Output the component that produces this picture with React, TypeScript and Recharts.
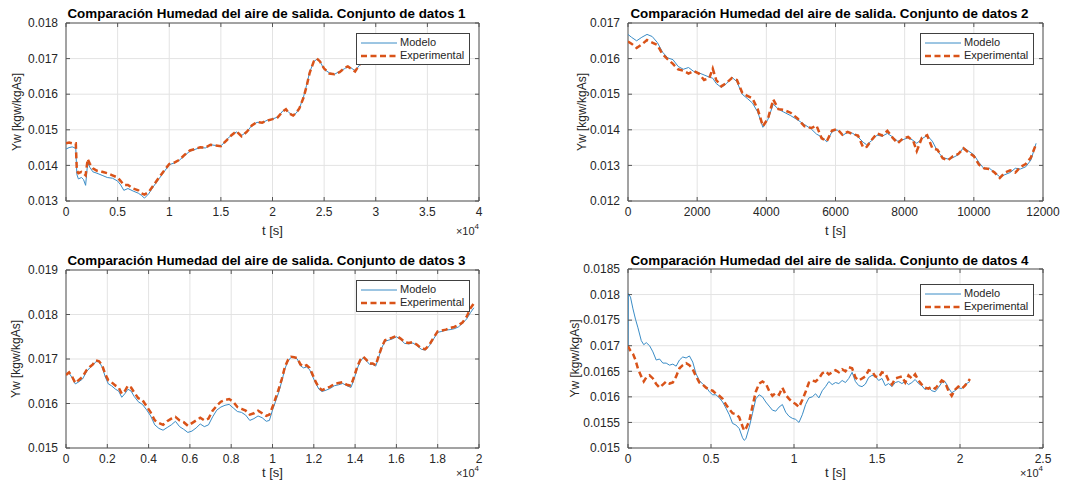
import React from "react";
import {
  LineChart,
  Line,
  XAxis,
  YAxis,
  CartesianGrid,
  Legend,
  Label,
  ReferenceArea,
} from "recharts";

// ---- data set 1 ----
const t1 = [
  0, 300, 600, 950, 1050, 1200, 1500, 1700, 1900, 2100,
  2300, 2600, 3000, 3500, 4000, 4500, 5000, 5300, 5600, 6000,
  6500, 7000, 7300, 7600, 8000, 8500, 9000, 9500, 10000, 10500,
  11000, 11500, 12000, 12500, 13000, 13500, 14000, 14500, 15000, 15300,
  15600, 16000, 16500, 17000, 17500, 18000, 18500, 19000, 19500, 20000,
  20500, 21000, 21300, 21600, 22000, 22300, 22600, 23000, 23300, 23600,
  24000, 24300, 24600, 25000, 25500, 26000, 26500, 27000, 27300, 27600,
  28000, 28500, 29000, 29300,
];
const modelo1 = [
  0.01446, 0.0145, 0.01452, 0.01448, 0.01375, 0.01362, 0.01366, 0.0136, 0.01344, 0.01408,
  0.01395, 0.01382, 0.01378, 0.01372, 0.01366, 0.01364, 0.01356, 0.01345, 0.0133, 0.01335,
  0.01328, 0.01322, 0.01316, 0.01308, 0.0132, 0.01342, 0.01362, 0.01382, 0.01402, 0.01407,
  0.01415, 0.01428, 0.0144, 0.01445, 0.0145, 0.01449, 0.01458, 0.01456, 0.01455, 0.01463,
  0.01474, 0.01484, 0.01494, 0.01484, 0.01494, 0.01512, 0.01521, 0.0152, 0.01527, 0.0153,
  0.01536, 0.01553, 0.01557, 0.01548, 0.0154, 0.01547, 0.0156, 0.01592, 0.01625, 0.01662,
  0.01692, 0.01698, 0.01692, 0.0167, 0.0166, 0.01656, 0.01664, 0.01672, 0.01678, 0.01674,
  0.01666, 0.01684, 0.01692, 0.01698,
];
const experimental1 = [
  0.01462, 0.01464, 0.01462, 0.01462, 0.01385, 0.01378, 0.01382, 0.01378, 0.01372, 0.01418,
  0.01405, 0.01392, 0.01385, 0.01382, 0.01378, 0.01372, 0.01366, 0.01356, 0.01345, 0.01345,
  0.01335, 0.0133, 0.01322, 0.01318, 0.01325, 0.01345, 0.01366, 0.01385, 0.01404, 0.01408,
  0.01416, 0.0143, 0.01442, 0.01446, 0.01451, 0.0145, 0.01458, 0.01456, 0.01454, 0.01463,
  0.01472, 0.01484, 0.01496, 0.01482, 0.01494, 0.01512, 0.01522, 0.0152, 0.01526, 0.0153,
  0.01535, 0.01552, 0.01558, 0.01546, 0.0154, 0.01548, 0.0156, 0.0159, 0.01622, 0.0166,
  0.01692, 0.017, 0.01692, 0.01672, 0.01658, 0.01656, 0.01662, 0.01674, 0.01678, 0.01672,
  0.01664, 0.01686, 0.01692, 0.017,
];

// ---- data set 2 ----
const t2 = [
  0, 100, 250, 400, 550, 700, 850, 1000, 1150, 1300,
  1450, 1600, 1750, 1900, 2050, 2200, 2350, 2450, 2550, 2700,
  2850, 3000, 3150, 3300, 3450, 3600, 3750, 3900, 4050, 4200,
  4350, 4500, 4700, 4900, 5100, 5300, 5450, 5600, 5750, 5900,
  6050, 6200, 6350, 6500, 6650, 6800, 6900, 7050, 7200, 7350,
  7500, 7650, 7800, 7950, 8100, 8250, 8350, 8500, 8650, 8800,
  8950, 9100, 9250, 9400, 9550, 9700, 9850, 10000, 10150, 10300,
  10450, 10600, 10750, 10900, 11050, 11200, 11350, 11500, 11650, 11800,
];
const modelo2 = [
  0.01668, 0.0166, 0.0165, 0.0166, 0.01668, 0.01662, 0.01645, 0.01618, 0.01602, 0.01597,
  0.01578, 0.0157, 0.01575, 0.01564, 0.0156, 0.01554, 0.01548, 0.01545, 0.0153, 0.01519,
  0.0153, 0.01548, 0.01535, 0.015, 0.01488, 0.01475, 0.0145, 0.01407, 0.0143, 0.01472,
  0.01458, 0.0145, 0.0144, 0.01428, 0.01415, 0.01402, 0.01388, 0.0138, 0.01366, 0.01395,
  0.014, 0.01384, 0.01393, 0.0139, 0.0138, 0.01365, 0.01358, 0.0137, 0.01385, 0.01382,
  0.0139, 0.0138, 0.01368, 0.01372, 0.01378, 0.0137, 0.01362, 0.01375, 0.01384, 0.01368,
  0.0134, 0.01322, 0.01318, 0.01322, 0.0133, 0.0135, 0.0134, 0.0133, 0.01308, 0.0129,
  0.01292, 0.0128, 0.01268, 0.01274, 0.0128, 0.01292, 0.0129, 0.01296, 0.01315, 0.01362,
];
const experimental2 = [
  0.01648, 0.01642, 0.0163, 0.0164, 0.01652, 0.01645, 0.01638, 0.01612, 0.01598, 0.01585,
  0.0157, 0.01566, 0.01558, 0.01565, 0.01558, 0.0154, 0.01545, 0.01572, 0.0154, 0.01522,
  0.01532, 0.01545, 0.0154, 0.01505, 0.01495, 0.01488, 0.01458, 0.0141, 0.01432, 0.01485,
  0.01458, 0.01456, 0.01448, 0.01432, 0.0141, 0.01405, 0.01412, 0.01376, 0.01368, 0.01398,
  0.01402, 0.01386, 0.01394, 0.01388, 0.01384, 0.0135, 0.01352, 0.01372, 0.0139, 0.01384,
  0.01397, 0.01378, 0.01362, 0.01376, 0.0138, 0.01368, 0.0134, 0.01378, 0.01385, 0.01348,
  0.01344, 0.0132, 0.01314, 0.01326, 0.01332, 0.01348, 0.01336, 0.01326, 0.01302, 0.01292,
  0.0129, 0.0128, 0.01265, 0.0128, 0.01286, 0.0128, 0.01296, 0.01304, 0.01322, 0.0136,
];

// ---- data set 3 ----
const t3 = [
  0, 150, 300, 450, 600, 800, 1000, 1150, 1300, 1450,
  1600, 1750, 1900, 2050, 2200, 2400, 2550, 2700, 2850, 3000,
  3150, 3300, 3500, 3700, 3900, 4100, 4300, 4500, 4700, 4900,
  5100, 5300, 5500, 5700, 5900, 6100, 6300, 6500, 6700, 6900,
  7100, 7300, 7500, 7700, 7900, 8100, 8300, 8500, 8700, 8900,
  9100, 9300, 9500, 9700, 9850, 10000, 10150, 10300, 10450, 10600,
  10750, 10900, 11050, 11200, 11350, 11500, 11650, 11800, 11950, 12100,
  12250, 12400, 12600, 12800, 13000, 13200, 13400, 13600, 13800, 13950,
  14100, 14250, 14400, 14550, 14700, 14850, 15000, 15150, 15300, 15450,
  15600, 15800, 16000, 16200, 16400, 16600, 16800, 17000, 17200, 17400,
  17600, 17800, 18000, 18200, 18400, 18600, 18800, 19000, 19200, 19400,
  19600, 19750,
];
const modelo3 = [
  0.01666, 0.01668, 0.01658, 0.01644, 0.01648, 0.01655, 0.01672, 0.0168, 0.01686, 0.01694,
  0.01694, 0.01682, 0.0166, 0.01644, 0.0164, 0.01632, 0.01628, 0.01614, 0.01622, 0.01632,
  0.01628, 0.01616, 0.01604, 0.01598, 0.01586, 0.01572, 0.01552, 0.01544, 0.0154, 0.01546,
  0.01552, 0.0156, 0.01548, 0.01542, 0.01535, 0.01538, 0.01545, 0.01554, 0.01548, 0.01552,
  0.0157, 0.01585, 0.01592, 0.01596, 0.01598, 0.0159, 0.01582, 0.0158, 0.01574, 0.01562,
  0.01566, 0.01572, 0.01568, 0.0156, 0.01562, 0.01585, 0.01605, 0.01625, 0.0165, 0.01678,
  0.01695, 0.01704, 0.01704, 0.017, 0.01685, 0.0168, 0.01682, 0.01676, 0.0166, 0.01645,
  0.01632, 0.01627, 0.0163, 0.01634, 0.0164, 0.01642, 0.01645, 0.0164, 0.01636, 0.01655,
  0.01678, 0.01695, 0.01703, 0.01696, 0.01688, 0.01688, 0.01684, 0.01705, 0.01726, 0.0174,
  0.01742, 0.01745, 0.0175, 0.01744, 0.01735, 0.01734, 0.01736, 0.0173, 0.01722, 0.0172,
  0.0173, 0.01745, 0.0176, 0.01762, 0.01765, 0.01766, 0.01768, 0.01772, 0.0178, 0.0179,
  0.01805, 0.01815,
];
const experimental3 = [
  0.01664, 0.0167, 0.0166, 0.01646, 0.01652, 0.0166, 0.01675, 0.01682, 0.01688, 0.01697,
  0.01695, 0.01686, 0.01666, 0.01652, 0.01648, 0.0164, 0.01636, 0.01622, 0.01628, 0.0164,
  0.01636, 0.01625, 0.01612, 0.01608, 0.01594, 0.0158, 0.01562, 0.01556, 0.01552, 0.0156,
  0.01566, 0.0157, 0.01562, 0.01558, 0.0155, 0.01556, 0.01562, 0.01568, 0.01562, 0.01566,
  0.01584, 0.01595, 0.01604, 0.01608, 0.0161, 0.01604, 0.01592, 0.01588, 0.01584, 0.01575,
  0.01578, 0.01584, 0.01578, 0.01572, 0.01575, 0.01592, 0.01612, 0.01632, 0.01655, 0.01682,
  0.01698, 0.01705, 0.01704, 0.01702, 0.01688, 0.01683, 0.01686, 0.0168, 0.01664, 0.01648,
  0.01636, 0.0163, 0.01634, 0.01638, 0.01644, 0.01646, 0.01648, 0.01642, 0.0164, 0.0166,
  0.01682, 0.01698, 0.01705, 0.01698, 0.0169, 0.0169, 0.01686, 0.01708, 0.01728, 0.01742,
  0.01745, 0.01748, 0.01752, 0.01746, 0.01738, 0.01736, 0.01738, 0.01732, 0.01724, 0.01722,
  0.01732, 0.01748, 0.01762, 0.01764, 0.01766, 0.0177, 0.01772, 0.01776, 0.01782, 0.01795,
  0.01815, 0.01825,
];

// ---- data set 4 ----
const t4 = [
  0, 20, 150, 300, 450, 600, 800, 950, 1100, 1300,
  1500, 1700, 1900, 2100, 2300, 2500, 2700, 2900, 3100, 3300,
  3500, 3700, 3900, 4100, 4300, 4500, 4700, 4900, 5100, 5300,
  5500, 5700, 5900, 6100, 6300, 6500, 6700, 6900, 7000, 7100,
  7300, 7500, 7700, 7900, 8100, 8300, 8500, 8700, 8900, 9100,
  9300, 9500, 9700, 9900, 10100, 10300, 10500, 10700, 10900, 11100,
  11300, 11500, 11700, 11900, 12100, 12300, 12500, 12700, 12900, 13100,
  13300, 13500, 13700, 13900, 14100, 14300, 14500, 14700, 14900, 15100,
  15300, 15500, 15700, 15900, 16100, 16300, 16500, 16700, 16900, 17100,
  17300, 17500, 17700, 17900, 18100, 18300, 18500, 18700, 18900, 19100,
  19300, 19500, 19700, 19900, 20100, 20300, 20600,
];
const modelo4 = [
  0.0169, 0.01802, 0.01795, 0.01772, 0.01752, 0.01735, 0.0171, 0.01702, 0.01706, 0.017,
  0.01688, 0.01672, 0.01674, 0.01666, 0.01666, 0.01662, 0.01664, 0.0166, 0.01672, 0.01678,
  0.01676, 0.0168, 0.01668, 0.01645, 0.01632, 0.01625, 0.0162, 0.0161, 0.01604, 0.01604,
  0.01598, 0.0159, 0.01578, 0.01565, 0.01548, 0.01545, 0.01538, 0.0152, 0.01515, 0.01518,
  0.0154, 0.01568, 0.01596, 0.01604, 0.016, 0.0159, 0.01582, 0.01574, 0.01572, 0.0158,
  0.01585, 0.0157, 0.01562, 0.01558, 0.01556, 0.0155, 0.01565, 0.01585, 0.01598, 0.016,
  0.01606, 0.01598, 0.01612, 0.0162, 0.0163, 0.01624, 0.01628, 0.01626, 0.01632, 0.01628,
  0.01636, 0.01648, 0.0163, 0.01622, 0.0162, 0.01625, 0.01638, 0.01642, 0.0164, 0.01632,
  0.01636, 0.01622, 0.01626, 0.0162, 0.01628, 0.0163, 0.01626, 0.0163, 0.01624, 0.01628,
  0.01634, 0.01626, 0.01622, 0.01614, 0.01618, 0.01612, 0.0161, 0.01618, 0.01628, 0.0163,
  0.01618, 0.01608, 0.01612, 0.01618, 0.01616, 0.01624, 0.0163,
];
const experimental4 = [
  0.017, 0.01698, 0.0169, 0.01684, 0.01672, 0.01655, 0.0164, 0.0163, 0.01638, 0.01642,
  0.01636, 0.01625, 0.01618, 0.01624, 0.0163, 0.01626, 0.01628, 0.0164, 0.01656, 0.01662,
  0.01666, 0.01662, 0.01654, 0.0164, 0.01628, 0.01624, 0.01618, 0.01614, 0.01612, 0.01606,
  0.01602, 0.01596, 0.01585, 0.01576, 0.01568, 0.01566, 0.0156, 0.01542, 0.01534, 0.01538,
  0.01552, 0.01582, 0.0161, 0.01626, 0.0163, 0.01626, 0.01612, 0.01602, 0.01608, 0.01604,
  0.01618, 0.01604, 0.01596, 0.0159, 0.01586, 0.0158, 0.01594, 0.0161, 0.01628, 0.01632,
  0.0163, 0.01636, 0.01646, 0.0165, 0.01644, 0.01648, 0.01652, 0.01648, 0.01654, 0.0165,
  0.01658, 0.01656, 0.01638, 0.01632, 0.01636, 0.0164, 0.01652, 0.0165, 0.0164, 0.01638,
  0.01648, 0.01646, 0.01632, 0.01624, 0.01636, 0.01638, 0.0164, 0.01628, 0.01642, 0.01636,
  0.01644, 0.01632, 0.01624, 0.01618, 0.01616, 0.0162, 0.01616, 0.01624, 0.01632, 0.01628,
  0.01612, 0.01602, 0.01614, 0.0162, 0.01616, 0.01622, 0.01635,
];

// ---- ticks ----
const xTicks1 = [0, 5000, 10000, 15000, 20000, 25000, 30000, 35000, 40000];
const yTicks1 = [0.013, 0.014, 0.015, 0.016, 0.017, 0.018];
const xTicks2 = [0, 2000, 4000, 6000, 8000, 10000, 12000];
const yTicks2 = [0.012, 0.013, 0.014, 0.015, 0.016, 0.017];
const xTicks3 = [0, 2000, 4000, 6000, 8000, 10000, 12000, 14000, 16000, 18000, 20000];
const yTicks3 = [0.015, 0.016, 0.017, 0.018, 0.019];
const xTicks4 = [0, 5000, 10000, 15000, 20000, 25000];
const yTicks4 = [0.015, 0.0155, 0.016, 0.0165, 0.017, 0.0175, 0.018, 0.0185];

const TITLE = "Comparación Humedad del aire de salida. Conjunto de datos ";
const SERIES = ["Modelo", "Experimental"];
const FONT = "'Liberation Sans', Arial, Helvetica, sans-serif";
const BLUE = "#3a8cc6";
const ORANGE = "#D95319";
const DASH = "6 3.5";
const AXIS = "#555";
const H = 242;

const panels = [
  {
    n: 1, t: t1, modelo: modelo1, experimental: experimental1,
    xTicks: xTicks1, yTicks: yTicks1, scaled: true,
    left: 0, top: 0, width: 540, yw: 66, mTop: 23, mRight: 61, xh: 41,
    xLabelDy: 29, yLabelDx: 49, legendLeft: 356, legendTop: 33, titleY: 14,
  },
  {
    n: 2, t: t2, modelo: modelo2, experimental: experimental2,
    xTicks: xTicks2, yTicks: yTicks2, scaled: false,
    left: 540, top: 0, width: 537, yw: 88, mTop: 23, mRight: 34, xh: 41,
    xLabelDy: 29, yLabelDx: 46, legendLeft: 380, legendTop: 33, titleY: 14,
  },
  {
    n: 3, t: t3, modelo: modelo3, experimental: experimental3,
    xTicks: xTicks3, yTicks: yTicks3, scaled: true,
    left: 0, top: 242, width: 540, yw: 66, mTop: 28, mRight: 61, xh: 36,
    xLabelDy: 24, yLabelDx: 50, legendLeft: 356, legendTop: 38, titleY: 19,
  },
  {
    n: 4, t: t4, modelo: modelo4, experimental: experimental4,
    xTicks: xTicks4, yTicks: yTicks4, scaled: true,
    left: 540, top: 242, width: 537, yw: 88, mTop: 27, mRight: 34, xh: 36,
    xLabelDy: 24, yLabelDx: 53, legendLeft: 380, legendTop: 42, titleY: 19,
  },
];

const fmtY = (v: number) => String(Number(v.toFixed(5)));

const renderLegend = (props: any) => {
  const items = [...(props.payload || [])].sort(
    (a: any, b: any) => SERIES.indexOf(a.value) - SERIES.indexOf(b.value)
  );
  return (
    <div
      style={{
        background: "#fff",
        border: "1px solid #404040",
        padding: "2px 5px 2px 3px",
        fontFamily: FONT,
        fontSize: 11,
        color: "#262626",
        lineHeight: "13px",
      }}
    >
      {items.map((e: any) => {
        const dashed = e.value === "Experimental";
        return (
          <div key={e.value} style={{ display: "flex", alignItems: "center", height: 13 }}>
            <svg width={38} height={10} style={{ marginRight: 2 }}>
              <line
                x1={1}
                y1={5}
                x2={37}
                y2={5}
                stroke={dashed ? ORANGE : BLUE}
                strokeWidth={dashed ? 2.5 : 1}
                strokeDasharray={dashed ? DASH : undefined}
              />
            </svg>
            <span>{e.value}</span>
          </div>
        );
      })}
    </div>
  );
};

function Panel({ p }: { p: (typeof panels)[number] }) {
  const data = p.t.map((t, i) => ({
    t,
    Modelo: p.modelo[i],
    Experimental: p.experimental[i],
  }));
  const xDomain = [p.xTicks[0], p.xTicks[p.xTicks.length - 1]];
  const yDomain = [p.yTicks[0], p.yTicks[p.yTicks.length - 1]];
  const fmtX = (v: number) => (p.scaled ? String(Number((v / 10000).toFixed(2))) : String(v));
  const plotW = p.width - p.yw - p.mRight;
  const plotTop = p.mTop;
  const plotBottom = H - p.xh;
  const plotLeft = p.yw;
  const plotRight = p.width - p.mRight;

  // MATLAB-style ticks: labels outside, short marks pointing inward on all four sides
  const xTick = (tp: any) => (
    <g>
      <line x1={tp.x} y1={plotBottom} x2={tp.x} y2={plotBottom - 4} stroke={AXIS} />
      <line x1={tp.x} y1={plotTop} x2={tp.x} y2={plotTop + 4} stroke={AXIS} />
      <text
        x={tp.x}
        y={tp.y}
        dy="0.71em"
        textAnchor="middle"
        fontSize={12}
        fontFamily={FONT}
        fill="#262626"
      >
        {fmtX(tp.payload.value)}
      </text>
    </g>
  );
  const yTick = (tp: any) => (
    <g>
      <line x1={plotLeft} y1={tp.y} x2={plotLeft + 4} y2={tp.y} stroke={AXIS} />
      <line x1={plotRight} y1={tp.y} x2={plotRight - 4} y2={tp.y} stroke={AXIS} />
      <text
        x={tp.x}
        y={tp.y}
        dy="0.355em"
        textAnchor="end"
        fontSize={12}
        fontFamily={FONT}
        fill="#262626"
      >
        {fmtY(tp.payload.value)}
      </text>
    </g>
  );

  return (
    <div style={{ position: "absolute", left: p.left, top: p.top, width: p.width, height: H }}>
      <div
        style={{
          position: "absolute",
          left: p.yw - 6,
          width: plotW,
          top: p.titleY - 8,
          textAlign: "center",
          fontFamily: FONT,
          fontWeight: "bold",
          fontSize: 13.4,
          lineHeight: "16px",
          color: "#000",
          whiteSpace: "nowrap",
        }}
      >
        {TITLE + p.n}
      </div>
      <LineChart
        width={p.width}
        height={H}
        data={data}
        margin={{ top: p.mTop, right: p.mRight, bottom: 0, left: 0 }}
      >
        <CartesianGrid stroke="#e3e3e3" strokeWidth={1} />
        <XAxis
          dataKey="t"
          type="number"
          domain={xDomain}
          ticks={p.xTicks}
          allowDataOverflow
          height={p.xh}
          axisLine={false}
          tickLine={false}
          tickSize={4}
          tick={xTick}
          interval={0}
        >
          <Label
            content={(lp: any) => {
              const vb = lp.viewBox;
              return (
                <g>
                  <text
                    x={vb.x + vb.width / 2}
                    y={vb.y + p.xLabelDy}
                    textAnchor="middle"
                    dominantBaseline="central"
                    fontSize={13}
                    fontFamily={FONT}
                    fill="#262626"
                  >
                    t [s]
                  </text>
                  {p.scaled && (
                    <text
                      x={vb.x + vb.width}
                      y={vb.y + p.xLabelDy + 1}
                      textAnchor="end"
                      dominantBaseline="central"
                      fontSize={11}
                      fontFamily={FONT}
                      fill="#262626"
                    >
                      ×10
                      <tspan fontSize={8} dy={-5}>
                        4
                      </tspan>
                    </text>
                  )}
                </g>
              );
            }}
          />
        </XAxis>
        <YAxis
          type="number"
          domain={yDomain}
          ticks={p.yTicks}
          allowDataOverflow
          width={p.yw}
          axisLine={false}
          tickLine={false}
          tickSize={6}
          tick={yTick}
          interval={0}
        >
          <Label
            content={(lp: any) => {
              const vb = lp.viewBox;
              const cx = vb.x + vb.width - p.yLabelDx;
              const cy = vb.y + vb.height / 2;
              return (
                <text
                  x={cx}
                  y={cy}
                  transform={`rotate(-90 ${cx} ${cy})`}
                  textAnchor="middle"
                  dominantBaseline="central"
                  fontSize={12}
                  fontFamily={FONT}
                  fill="#262626"
                >
                  Yw [kgw/kgAs]
                </text>
              );
            }}
          />
        </YAxis>
        <ReferenceArea
          x1={xDomain[0]}
          x2={xDomain[1]}
          y1={yDomain[0]}
          y2={yDomain[1]}
          fill="none"
          stroke={AXIS}
          strokeWidth={1}
        />
        <Line
          type="linear"
          dataKey="Modelo"
          stroke={BLUE}
          strokeWidth={1}
          dot={false}
          isAnimationActive={false}
        />
        <Line
          type="linear"
          dataKey="Experimental"
          stroke={ORANGE}
          strokeWidth={2.5}
          strokeDasharray={DASH}
          dot={false}
          isAnimationActive={false}
        />
        <Legend
          layout="vertical"
          align="center"
          verticalAlign="middle"
          content={renderLegend}
          wrapperStyle={{ position: "absolute", left: p.legendLeft, top: p.legendTop, width: "auto", height: "auto" }}
        />
      </LineChart>
    </div>
  );
}

export default function App() {
  return (
    <div style={{ position: "absolute", left: 0, top: 0, width: 1077, height: 484, background: "#fff" }}>
      {panels.map((p) => (
        <Panel key={p.n} p={p} />
      ))}
    </div>
  );
}
